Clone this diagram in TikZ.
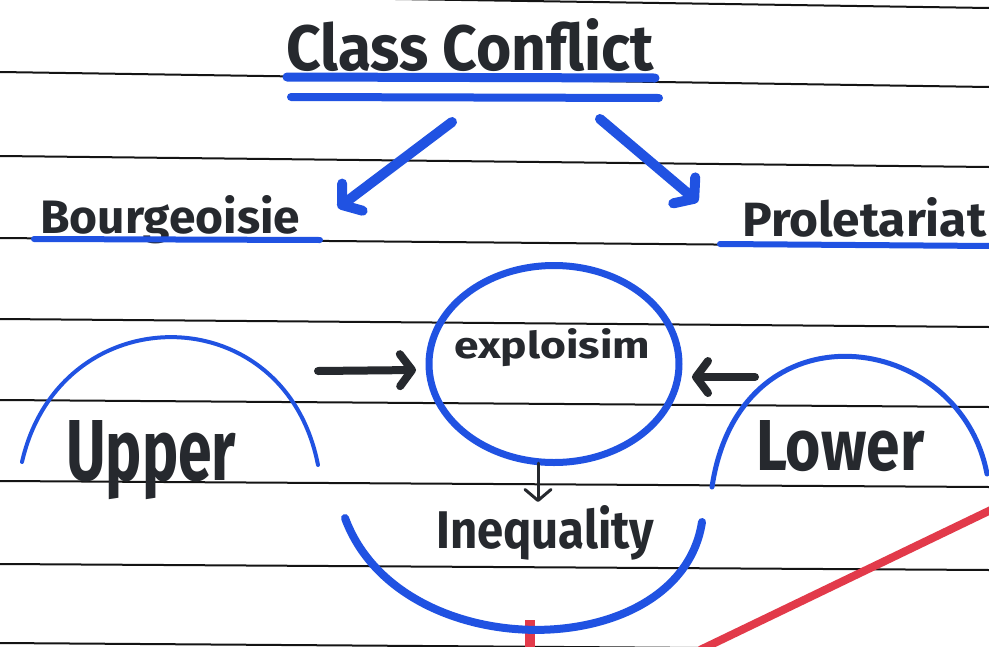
\documentclass[tikz,border=0pt]{standalone}
\usepackage{fontspec}
\setmainfont{Fira Sans}
\usetikzlibrary{arrows.meta,shapes.geometric}
\definecolor{ink}{RGB}{38,41,46}
\definecolor{marker}{RGB}{32,82,226}
\definecolor{rule}{RGB}{20,20,20}
\definecolor{redpen}{RGB}{226,58,74}
\newcommand{\fitword}[3]{\resizebox{#1pt}{#2pt}{\bfseries #3}}
\tikzset{
  word/.style={inner sep=0pt, anchor=base west, text=ink},
  ruleline/.style={draw=rule, line width=2pt},
  blueline/.style={draw=marker, line cap=round},
  bluearrow/.style={draw=marker, line width=10pt, line cap=round, -{Straight Barb[length=13pt,width=34pt,round]}},
  blackarrow/.style={draw=ink, line width=8pt, line cap=round, -{Straight Barb[length=12pt,width=32pt,round]}},
  thinarrow/.style={draw=ink, line width=3pt, line cap=round, -{Straight Barb[length=11pt,width=26pt,round]}},
  bubble/.style={ellipse, draw=marker, line width=7pt, minimum width=250pt, minimum height=197pt, inner sep=0pt},
}
\begin{document}
\begin{tikzpicture}[x=1pt,y=-1pt]
\useasboundingbox[fill=white] (0,0) rectangle (989,646);
% ruled notebook lines
\foreach \l/\r in {-7/8, 72/87, 156/167, 238/247, 319/327, 400/407, 481/487, 564/570, 643/650}
  \draw[ruleline] (0,\l) -- (989,\r);
% red margin marks
\draw[draw=redpen, line width=8pt] (700,650) -- (995,508);
\draw[draw=redpen, line width=10pt] (530,620) -- (530,650);

% title
\node[word] (title) at (286,70) {\fitword{368}{52}{Class Conflict}};
\draw[blueline, line width=9pt] (287,77) -- (655,78);
\draw[blueline, line width=8pt] (291,97) -- (659,98);

% bourgeoisie / proletariat
\node[word] (bourg) at (40,233) {\fitword{260}{38}{Bourgeoisie}};
\draw[blueline, line width=6pt] (34,239) -- (320,240);
\node[word] (prole) at (742,236) {\fitword{244}{39}{Proletariat}};
\draw[blueline, line width=6pt] (720,244) -- (992,246);

\coordinate (t1) at (452,122);
\coordinate (b1) at (338,208);
\coordinate (t2) at (600,119);
\coordinate (p1) at (698,202);
\draw[bluearrow] (t1) -- (b1);
\draw[bluearrow] (t2) -- (p1);

% exploitation bubble
\node[bubble] (expl) at (554,364) {};
\node[word] (expltext) at (454,358) {\fitword{196}{30}{exploisim}};

% Upper / Lower arcs
\draw[blueline, line width=4pt] (22,462) .. controls (60,295) and (285,295) .. (318,465);
\node[word] (upper) at (66,480) {\fitword{170}{60}{Upper}};
\draw[blueline, line width=5pt] (712,487) .. controls (740,300) and (960,330) .. (987,474);
\node[word] (lower) at (756,470) {\fitword{168}{50}{Lower}};

\coordinate (u1) at (318,371);
\coordinate (u2) at (416,370);
\coordinate (l1) at (755,377);
\coordinate (l2) at (692,377);
\draw[blackarrow] (u1) -- (u2);
\draw[blackarrow] (l1) -- (l2);

% inequality
\coordinate (d1) at (538,463);
\coordinate (d2) at (538,502);
\draw[thinarrow] (d1) -- (d2);
\node[word] (ineq) at (436,548) {\fitword{218}{43}{Inequality}};
\draw[blueline, line width=8pt] (345,518) .. controls (400,668) and (680,665) .. (702,522);
\end{tikzpicture}
\end{document}
